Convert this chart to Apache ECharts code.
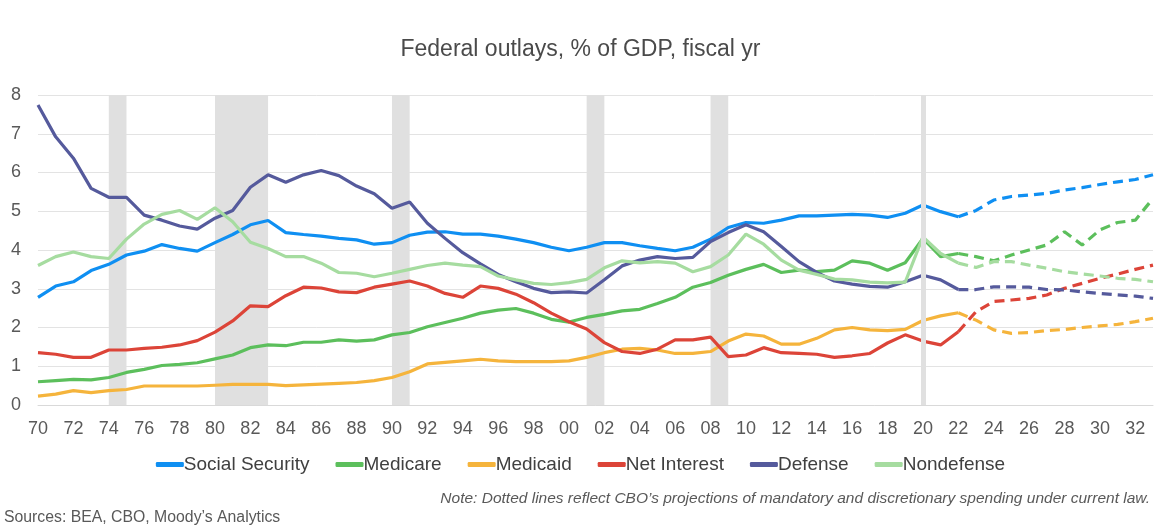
<!DOCTYPE html>
<html><head><meta charset="utf-8">
<script src="https://cdn.jsdelivr.net/npm/echarts@6/dist/echarts.min.js"></script>
<style>html,body{margin:0;padding:0;background:#fff;}#c{width:1161px;height:527px;}</style>
</head><body><div id="c"></div>
<script>
var years = [];
for (var y = 1970; y <= 2033; y++) years.push(String(y));

var socialSecurity = [2.78,3.07,3.18,3.47,3.63,3.87,3.97,4.14,4.04,3.97,4.19,4.40,4.65,4.76,4.45,4.40,4.36,4.30,4.26,4.15,4.19,4.38,4.46,4.47,4.41,4.41,4.36,4.28,4.19,4.07,3.98,4.07,4.19,4.19,4.11,4.04,3.98,4.07,4.28,4.58,4.71,4.69,4.77,4.88,4.88,4.90,4.92,4.90,4.84,4.95,5.16,4.99,4.86];
var socialSecurityProj = [5.02,5.29,5.38,5.42,5.46,5.55,5.61,5.69,5.76,5.82,5.94];
var medicare = [0.60,0.63,0.66,0.65,0.71,0.84,0.92,1.02,1.05,1.09,1.19,1.29,1.48,1.55,1.53,1.62,1.62,1.68,1.65,1.68,1.81,1.87,2.02,2.13,2.24,2.37,2.45,2.49,2.37,2.21,2.14,2.26,2.34,2.43,2.47,2.62,2.78,3.04,3.16,3.35,3.50,3.63,3.42,3.48,3.44,3.48,3.72,3.66,3.48,3.67,4.30,3.83,3.91];
var medicareProj = [3.83,3.72,3.87,4.00,4.13,4.47,4.13,4.52,4.71,4.77,5.33];
var medicaid = [0.23,0.28,0.37,0.32,0.37,0.40,0.49,0.49,0.49,0.49,0.51,0.53,0.53,0.53,0.50,0.52,0.54,0.56,0.58,0.63,0.71,0.86,1.06,1.10,1.14,1.18,1.14,1.12,1.12,1.12,1.14,1.23,1.35,1.44,1.46,1.42,1.33,1.33,1.38,1.65,1.83,1.78,1.57,1.57,1.72,1.94,2.00,1.94,1.92,1.95,2.18,2.30,2.38];
var medicaidProj = [2.19,1.94,1.85,1.87,1.92,1.95,2.00,2.04,2.08,2.15,2.24];
var netInterest = [1.35,1.31,1.23,1.23,1.42,1.42,1.46,1.49,1.55,1.66,1.88,2.17,2.56,2.54,2.82,3.04,3.02,2.92,2.90,3.04,3.12,3.20,3.07,2.88,2.78,3.07,3.01,2.86,2.64,2.37,2.15,1.96,1.61,1.38,1.33,1.44,1.68,1.68,1.75,1.25,1.29,1.48,1.35,1.33,1.31,1.23,1.27,1.33,1.60,1.81,1.65,1.55,1.89];
var netInterestProj = [2.41,2.67,2.71,2.75,2.84,3.01,3.14,3.27,3.38,3.50,3.61];
var defense = [7.74,6.92,6.37,5.59,5.36,5.36,4.90,4.77,4.62,4.54,4.82,5.02,5.62,5.94,5.75,5.94,6.05,5.92,5.65,5.45,5.08,5.24,4.69,4.30,3.93,3.64,3.37,3.18,3.01,2.90,2.92,2.89,3.23,3.59,3.74,3.83,3.78,3.81,4.22,4.45,4.65,4.47,4.09,3.70,3.42,3.20,3.12,3.06,3.04,3.18,3.35,3.23,2.98];
var defenseProj = [2.98,3.05,3.05,3.04,2.98,2.97,2.92,2.88,2.84,2.81,2.75];
var nondefense = [3.60,3.83,3.95,3.83,3.78,4.28,4.67,4.92,5.02,4.79,5.09,4.73,4.20,4.04,3.83,3.83,3.66,3.42,3.40,3.31,3.40,3.50,3.60,3.66,3.61,3.57,3.33,3.23,3.14,3.11,3.16,3.24,3.54,3.72,3.67,3.70,3.66,3.44,3.57,3.87,4.41,4.15,3.74,3.48,3.37,3.25,3.23,3.17,3.15,3.17,4.34,3.91,3.66];
var nondefenseProj = [3.55,3.70,3.70,3.61,3.53,3.44,3.38,3.33,3.27,3.24,3.18];

var recessions = [['1974','1975'],['1980','1983'],['1990','1991'],['2001','2002'],['2008','2009']];
var recessionLine = '2020';

var names = ['Social Security','Medicare','Medicaid','Net Interest','Defense','Nondefense'];
var colors = ['#0f8ff2','#5cbf5c','#f5b43c','#dc4438','#555a9c','#a6dca0'];
var hist = [socialSecurity, medicare, medicaid, netInterest, defense, nondefense];
var proj = [socialSecurityProj, medicareProj, medicaidProj, netInterestProj, defenseProj, nondefenseProj];

var series = [{
  type: 'line', data: [], z: 1, silent: true,
  markArea: { silent: true, itemStyle: { color: '#e0e0e0' },
    data: recessions.map(function (r) { return [{ xAxis: r[0] }, { xAxis: r[1] }]; }) },
  markLine: { silent: true, symbol: ['none','none'], label: { show: false },
    lineStyle: { color: '#e0e0e0', width: 5, type: 'solid' },
    data: [{ xAxis: recessionLine }] }
}];
for (var i = 0; i < 6; i++) {
  var h = hist[i];
  var pd = [];
  for (var k = 0; k < h.length - 1; k++) pd.push(null);
  pd.push(h[h.length - 1]);
  pd = pd.concat(proj[i]);
  series.push({ type: 'line', name: names[i] + ' proj', data: pd, symbol: 'none', z: 2,
    lineStyle: { color: colors[i], width: 3.2, type: [10, 6] }, itemStyle: { color: colors[i] } });
}
for (var i = 0; i < 6; i++) {
  series.push({ type: 'line', name: names[i], data: hist[i], symbol: 'none', z: 3,
    lineStyle: { color: colors[i], width: 3.2 }, itemStyle: { color: colors[i] } });
}

var chart = echarts.init(document.getElementById('c'));
chart.setOption({
  animation: false,
  backgroundColor: '#fff',
  title: { text: 'Federal outlays, % of GDP, fiscal yr', left: 'center', top: 33,
    textStyle: { fontFamily: 'Liberation Sans', fontSize: 23, fontWeight: 'normal', color: '#4a4a4a' } },
  grid: { left: 38, right: 8, top: 95, bottom: 122 },
  legend: { data: names, top: 450, left: 'center', itemWidth: 28, itemHeight: 5, itemGap: 26,
    icon: 'roundRect',
    textStyle: { fontFamily: 'Liberation Sans', fontSize: 19, color: '#404040', padding: [0,0,0,-5] } },
  xAxis: { type: 'category', data: years, boundaryGap: false,
    axisLine: { show: true, lineStyle: { color: '#d9d9d9' } },
    axisTick: { show: false },
    axisLabel: { interval: 1, margin: 15, fontFamily: 'Liberation Sans', fontSize: 18, color: '#595959',
      formatter: function (v) { return v.slice(2); } } },
  yAxis: { type: 'value', min: 0, max: 8, interval: 1,
    axisLine: { show: false }, axisTick: { show: false },
    splitLine: { lineStyle: { color: '#e3e3e3', width: 1 } },
    axisLabel: { margin: 27, align: 'left', fontFamily: 'Liberation Sans', fontSize: 18, color: '#595959' } },
  graphic: [
    { type: 'text', right: 11, top: 491, style: { text: 'Note: Dotted lines reflect CBO\u2019s projections of mandatory and discretionary spending under current law.',
      font: 'italic 15.5px "Liberation Sans"', fill: '#595959' } },
    { type: 'text', left: 4, top: 510, style: { text: 'Sources: BEA, CBO, Moody\u2019s Analytics',
      font: '15.8px "Liberation Sans"', fill: '#595959' } }
  ],
  series: series
});
</script></body></html>
